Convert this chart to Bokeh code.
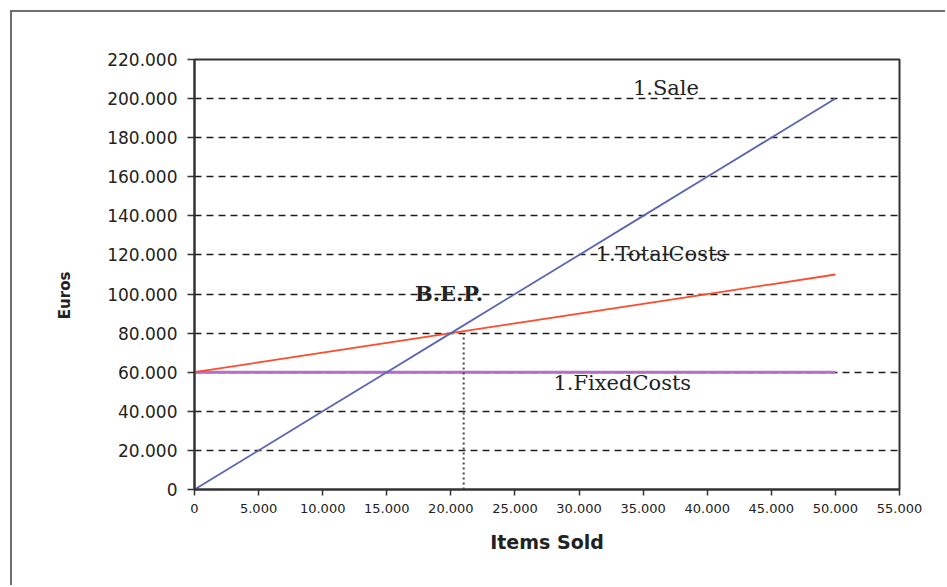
from bokeh.plotting import figure
from bokeh.models import Range1d, FixedTicker
from bokeh.core.properties import value
from bokeh.embed import file_html
from bokeh.resources import INLINE

# Break-even data: units sold and the resulting revenue / cost curves (EUR)
items = [0, 5000, 10000, 15000, 20000, 25000, 30000, 35000, 40000, 45000, 50000]
sale = [0, 20000, 40000, 60000, 80000, 100000, 120000, 140000, 160000, 180000, 200000]
fixed_costs = [60000, 60000, 60000, 60000, 60000, 60000, 60000, 60000, 60000, 60000, 60000]
total_costs = [60000, 65000, 70000, 75000, 80000, 85000, 90000, 95000, 100000, 105000, 110000]

# Break-even point and where its drop line meets the axis
bep_value = 80000
bep_drop_items = 21000

x_ticks = [0, 5000, 10000, 15000, 20000, 25000, 30000, 35000, 40000, 45000, 50000, 55000]
x_tick_labels = ["0", "5.000", "10.000", "15.000", "20.000", "25.000", "30.000",
                 "35.000", "40.000", "45.000", "50.000", "55.000"]
y_ticks = [0, 20000, 40000, 60000, 80000, 100000, 120000, 140000, 160000, 180000,
           200000, 220000]
y_tick_labels = ["0", "20.000", "40.000", "60.000", "80.000", "100.000", "120.000",
                 "140.000", "160.000", "180.000", "200.000", "220.000"]

# Curve captions: (text, x, y, bold)
captions = [
    ("1.Sale", 34200, 205600, False),
    ("1.TotalCosts", 31300, 120700, False),
    ("1.FixedCosts", 28000, 54700, False),
    ("B.E.P.", 17200, 100300, True),
]

INK = "#222222"

p = figure(
    width=935, height=575,
    x_range=Range1d(0, 55000), y_range=Range1d(0, 220000),
    output_backend="svg", toolbar_location=None,
    min_border_left=182, min_border_right=48,
    min_border_top=47, min_border_bottom=98,
)
p.styles = {
    "border-top": "2px solid #6f6f6f",
    "border-left": "2px solid #6f6f6f",
    "margin-top": "10px",
    "margin-left": "10px",
}

p.background_fill_color = "white"
p.border_fill_color = "white"
p.outline_line_color = "#333333"
p.outline_line_width = 2

# Axes
p.xaxis.ticker = FixedTicker(ticks=x_ticks)
p.xaxis.major_label_overrides = dict(zip(x_ticks, x_tick_labels))
p.yaxis.ticker = FixedTicker(ticks=y_ticks)
p.yaxis.major_label_overrides = dict(zip(y_ticks, y_tick_labels))
for ax in (p.xaxis, p.yaxis):
    ax.axis_line_color = "#333333"
    ax.axis_line_width = 2
    ax.major_tick_line_color = "#333333"
    ax.major_tick_line_width = 1.5
    ax.major_tick_in = 0
    ax.minor_tick_line_color = None
    ax.major_label_text_font = "DejaVu Sans"
    ax.major_label_text_color = INK
    ax.axis_label_text_font = "DejaVu Sans"
    ax.axis_label_text_font_style = "bold"
    ax.axis_label_text_color = INK

p.xaxis.major_tick_out = 6
p.xaxis.major_label_text_font_size = "13px"
p.xaxis.major_label_standoff = 8
p.xaxis.axis_label = "Items Sold"
p.xaxis.axis_label_text_font_size = "19px"
p.xaxis.axis_label_standoff = 15

p.yaxis.major_tick_out = 7
p.yaxis.major_label_text_font_size = "17px"
p.yaxis.major_label_standoff = 10
# trailing no-break spaces push the rotated title a little below the frame's centre
p.yaxis.axis_label = "Euros" + "\u00a0" * 8
p.yaxis.axis_label_text_font_size = "15px"
p.yaxis.axis_label_standoff = 30

# Dashed horizontal gridlines between the bottom axis and the top frame,
# kept on the lowest layer so the curves sit on top of them
p.xgrid.grid_line_color = None
p.ygrid.ticker = FixedTicker(ticks=y_ticks[1:-1])
p.ygrid.grid_line_color = "#1e1e1e"
p.ygrid.grid_line_width = 1.4
p.ygrid.grid_line_dash = "7 5"
p.ygrid.level = "image"

# Curves
p.line(items, fixed_costs, line_color="#b36fc6", line_width=3.0)
p.line(items, total_costs, line_color="#ff4b2b", line_width=1.8)
p.line(items, sale, line_color="#5a66b4", line_width=1.8)

# Dotted drop line below the break-even point
p.segment(x0=[bep_drop_items], y0=[0], x1=[bep_drop_items], y1=[bep_value],
          line_color="#444444", line_width=2, line_dash="2 3")

# Captions
for text, cx, cy, bold in captions:
    p.text(x=[cx], y=[cy], text=[text], text_font=value("DejaVu Serif"),
           text_font_size="21px", text_baseline="middle", text_align="left",
           text_color=INK, text_font_style="bold" if bold else "normal")

open("out.html", "w").write(file_html(p, INLINE))
